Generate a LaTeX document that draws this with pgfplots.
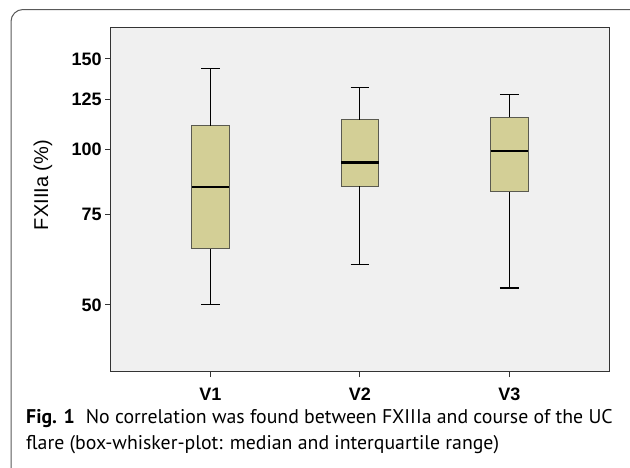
\documentclass[border=0pt]{standalone}
\usepackage{pgfplots}
\pgfplotsset{compat=1.18}
\usepackage{fontspec}
\setmainfont{Liberation Sans}
\newfontfamily\capfont{PT Sans}
\definecolor{boxfill}{HTML}{D3CF96}
\definecolor{boxedge}{HTML}{5A5A50}
\definecolor{plotbg}{HTML}{F0F0F0}
\begin{document}
\begin{tikzpicture}
\useasboundingbox (0pt,0pt) rectangle (630pt,-467pt);
\draw[line width=1pt, color=black!65, rounded corners=12pt] (11pt,-9.5pt) rectangle (660pt,-500pt);
\begin{axis}[
  at={(110.7pt,-371.7pt)}, anchor=south west,
  scale only axis, width=498.3pt, height=344.4pt,
  ymode=log, ymin=37.1, ymax=172.7,
  xmin=0.3333, xmax=3.6667,
  axis background/.style={fill=plotbg},
  axis line style={black!80, line width=0.9pt},
  xtick={1,2,3}, xticklabels={V1,V2,V3},
  ytick={50,75,100,125,150}, yticklabels={50,75,100,125,150},
  minor ytick={},
  xtick pos=bottom, ytick pos=left,
  tick align=outside, major tick length=5.5pt,
  tick style={black!80, line width=0.9pt},
  ticklabel style={font=\bfseries\fontsize{18}{18}\selectfont},
  xticklabel style={yshift=-7pt},
  ylabel={FXIIIa (\%)},
  ylabel style={font=\fontsize{20}{20}\selectfont, at={(axis description cs:-0.136,0.542)}, anchor=center},
  unbounded coords=jump,
  clip=false,
]
% boxes (lower quartile to upper quartile)
\addplot[draw=boxedge, fill=boxfill, line width=0.9pt] coordinates {(0.875,64.2) (1.125,64.2) (1.125,111.2) (0.875,111.2)} --cycle;
\addplot[draw=boxedge, fill=boxfill, line width=0.9pt] coordinates {(1.875,84.9) (2.125,84.9) (2.125,114.3) (1.875,114.3)} --cycle;
\addplot[draw=boxedge, fill=boxfill, line width=0.9pt] coordinates {(2.875,82.9) (3.125,82.9) (3.125,115.6) (2.875,115.6)} --cycle;
% whiskers
\addplot[black, line width=1.2pt] coordinates {
 (1,111.2) (1,143.8) (1,nan) (0.9375,143.8) (1.0625,143.8) (1,nan)
 (1,64.2) (1,50) (1,nan) (0.9375,50) (1.0625,50) (1,nan)
 (2,114.3) (2,131.9) (2,nan) (1.9375,131.9) (2.0625,131.9) (2,nan)
 (2,84.9) (2,59.8) (2,nan) (1.9375,59.8) (2.0625,59.8) (2,nan)
 (3,115.6) (3,127.8) (3,nan) (2.9375,127.8) (3.0625,127.8) (3,nan)
 (3,82.9) (3,53.9) (3,nan) (2.9375,53.9) (3.0625,53.9)
};
% medians
\addplot[black, line width=2.2pt] coordinates {
 (0.875,84.7) (1.125,84.7) (1,nan)
 (1.875,94.4) (2.125,94.4) (2,nan)
 (2.875,99.4) (3.125,99.4)
};
\end{axis}
\node[anchor=base west, inner sep=0, font=\capfont\fontsize{19.8}{19.8}\selectfont] at (26pt,-423pt) {\textbf{Fig. 1}\hspace{0.55em}No correlation was found between FXIIIa and course of the UC};
\node[anchor=base west, inner sep=0, font=\capfont\fontsize{19.8}{19.8}\selectfont] at (26pt,-449pt) {flare (box-whisker-plot: median and interquartile range)};
\end{tikzpicture}
\end{document}
